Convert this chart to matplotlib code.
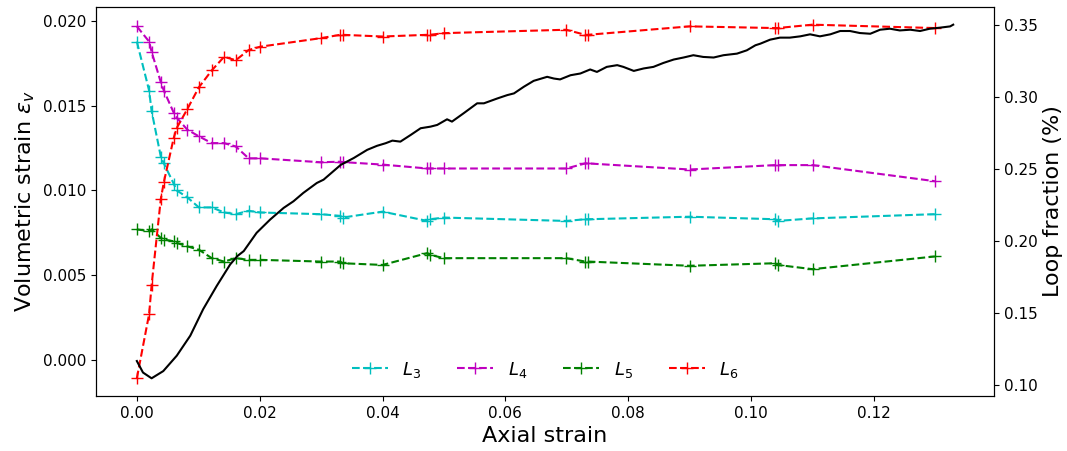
import matplotlib
matplotlib.use("Agg")
import matplotlib.pyplot as plt

# Axial strain at which the loop counts were sampled
strain = [0.0, 0.0020, 0.0024, 0.0039, 0.0044, 0.0060, 0.0065, 0.0082, 0.0101,
          0.0122, 0.0142, 0.0161, 0.0182, 0.0201, 0.0299, 0.0331, 0.0335, 0.0400,
          0.0473, 0.0477, 0.0500, 0.0699, 0.0730, 0.0734, 0.0900, 0.1039, 0.1043,
          0.1100, 0.1299]

# Volumetric strain per loop order
L3 = [0.0188, 0.0159, 0.0147, 0.0120, 0.0116, 0.0104, 0.0100, 0.0096, 0.0090,
      0.0090, 0.0087, 0.0086, 0.0088, 0.0087, 0.0086, 0.0085, 0.0084, 0.00875,
      0.0082, 0.0083, 0.0084, 0.0082, 0.0083, 0.0083, 0.00845, 0.0083, 0.0082,
      0.00835, 0.0086]
L4 = [0.0197, 0.0188, 0.0182, 0.0164, 0.0159, 0.0146, 0.0143, 0.0136, 0.0132,
      0.0128, 0.0128, 0.0126, 0.0119, 0.0119, 0.01167, 0.0117, 0.01168, 0.01153,
      0.0113, 0.0113, 0.0113, 0.0113, 0.0116, 0.0116, 0.01124, 0.0115, 0.0115,
      0.0115, 0.01055]
L5 = [0.0077, 0.0076, 0.0077, 0.0072, 0.0071, 0.0070, 0.0069, 0.0067, 0.0065,
      0.0060, 0.0058, 0.0060, 0.0059, 0.0059, 0.0058, 0.0058, 0.0057, 0.0056,
      0.0063, 0.0062, 0.0060, 0.0060, 0.0058, 0.0058, 0.00555, 0.0057, 0.0056,
      0.00535, 0.0061]
L6 = [-0.0011, 0.0027, 0.0044, 0.0095, 0.0105, 0.0131, 0.0137, 0.0148, 0.0161,
      0.0171, 0.0179, 0.0177, 0.0183, 0.0185, 0.0190, 0.0192, 0.0192, 0.0191,
      0.0192, 0.0192, 0.0193, 0.0195, 0.0192, 0.0192, 0.0197, 0.0196, 0.0196,
      0.0198, 0.0196]

# Loop fraction curve
loop_strain = [0.0, 0.0010, 0.0024, 0.0043, 0.0065, 0.0087, 0.0108, 0.0130, 0.0152,
               0.0164, 0.0174, 0.0195, 0.0217, 0.0239, 0.0255, 0.0271, 0.0293, 0.0304,
               0.0332, 0.0353, 0.0375, 0.0391, 0.0405, 0.0416, 0.0429, 0.0446, 0.0462,
               0.0478, 0.0489, 0.0505, 0.0513, 0.0532, 0.0554, 0.0565, 0.0587, 0.0603,
               0.0614, 0.0630, 0.0646, 0.0668, 0.0679, 0.0689, 0.0706, 0.0722, 0.0738,
               0.0749, 0.0765, 0.0782, 0.0792, 0.0809, 0.0825, 0.0841, 0.0857, 0.0874,
               0.0890, 0.0906, 0.0922, 0.0939, 0.0955, 0.0977, 0.0993, 0.1007, 0.1015,
               0.1031, 0.1047, 0.1063, 0.1080, 0.1096, 0.1112, 0.1129, 0.1145, 0.1161,
               0.1177, 0.1194, 0.1210, 0.1226, 0.1242, 0.1259, 0.1275, 0.1291, 0.1307,
               0.1324, 0.1329]
loop_fraction = [0.117, 0.109, 0.105, 0.110, 0.1207, 0.1346, 0.1530, 0.1691, 0.1841,
                 0.1900, 0.1933, 0.2060, 0.2152, 0.2233, 0.2279, 0.2337, 0.2406, 0.2429,
                 0.2532, 0.2579, 0.2636, 0.2664, 0.2682, 0.2700, 0.2693, 0.2740, 0.2786,
                 0.2797, 0.2809, 0.2848, 0.2832, 0.2890, 0.2959, 0.2959, 0.2993, 0.3016,
                 0.3028, 0.3074, 0.3115, 0.3143, 0.3131, 0.3125, 0.3154, 0.3166, 0.3194,
                 0.3177, 0.3212, 0.3224, 0.3212, 0.3184, 0.3201, 0.3212, 0.3239, 0.3263,
                 0.3277, 0.3293, 0.3281, 0.3277, 0.3293, 0.3304, 0.3327, 0.3362, 0.3373,
                 0.3401, 0.3415, 0.3415, 0.3424, 0.3438, 0.3424, 0.3438, 0.3461, 0.3461,
                 0.3447, 0.3442, 0.3470, 0.3477, 0.3465, 0.3470, 0.3461, 0.3477, 0.3484,
                 0.3493, 0.3505]

series = [("$L_3$", L3, "c"), ("$L_4$", L4, "m"), ("$L_5$", L5, "g"), ("$L_6$", L6, "r")]

fig = plt.figure(figsize=(10.67, 4.51), dpi=100)
ax = fig.add_axes([0.090, 0.122, 0.8416, 0.8625])

for label, vals, color in series:
    ax.plot(strain, vals, linestyle="--", marker="+", color=color,
            markersize=8, linewidth=1.5, label=label)

ax.set_xlabel("Axial strain", fontsize=16)
ax.set_ylabel(r"Volumetric strain $\varepsilon_v$", fontsize=16)
ax.tick_params(labelsize=11)
ax.legend(loc="lower center", ncol=4, frameon=False, fontsize=13)

ax2 = ax.twinx()
ax2.plot(loop_strain, loop_fraction, color="k", linewidth=1.5)
ax2.set_ylabel("Loop fraction (%)", fontsize=16)
ax2.tick_params(labelsize=11)

fig.savefig("out.png", dpi=100)
